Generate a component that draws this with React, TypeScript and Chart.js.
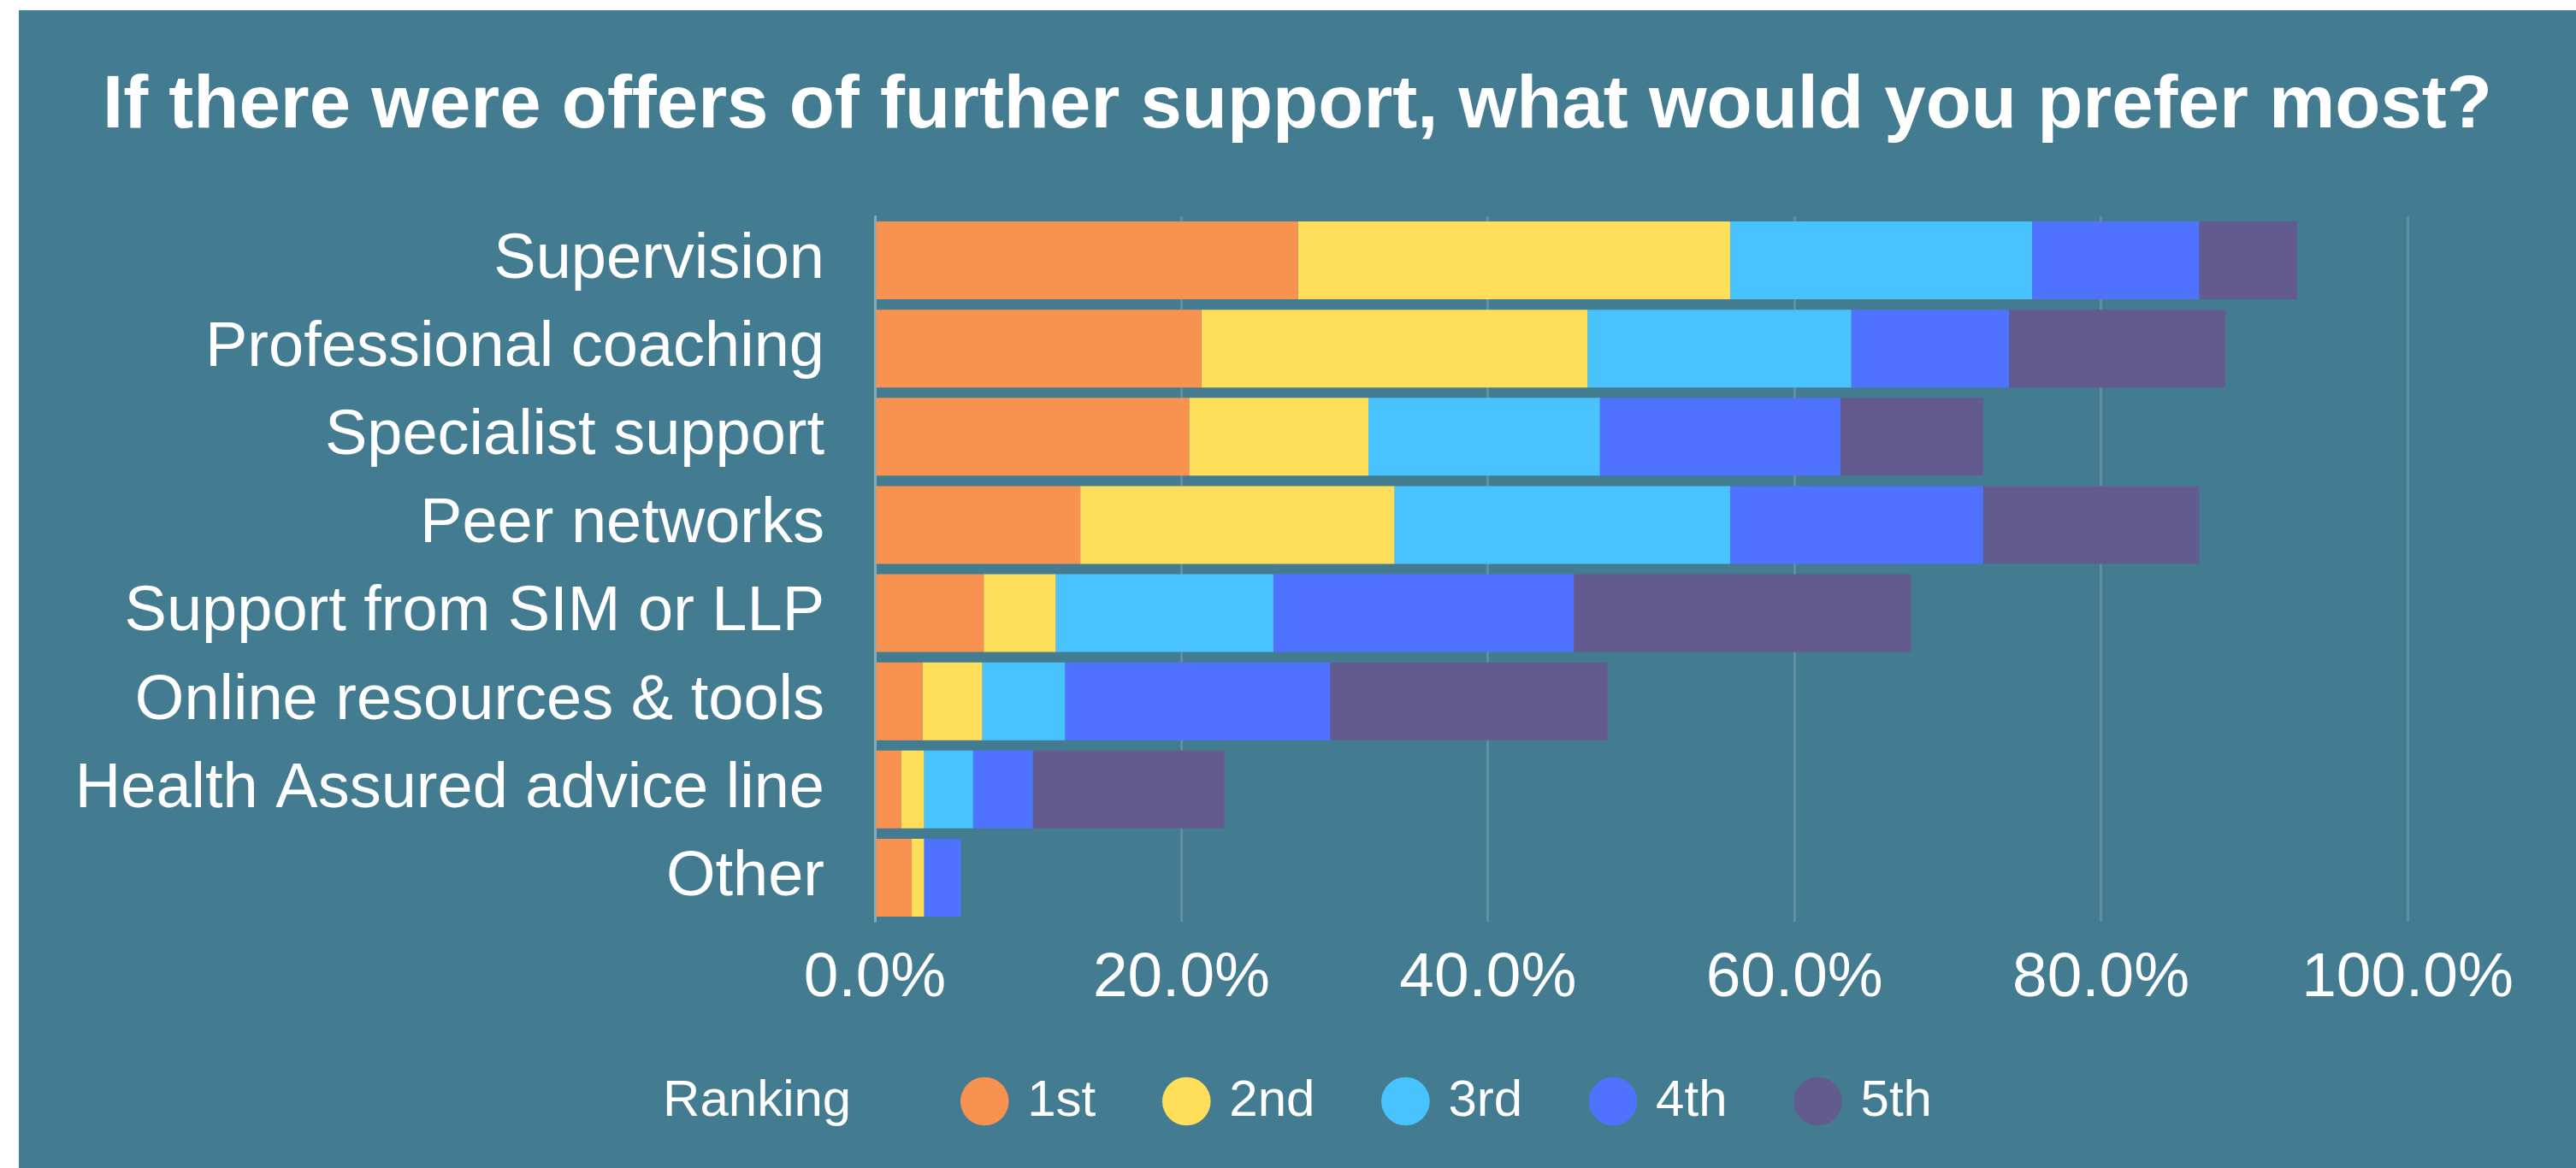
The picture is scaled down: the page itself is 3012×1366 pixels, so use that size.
import React, { useEffect, useRef } from 'react';
import { Chart, registerables } from 'chart.js';

Chart.register(...registerables);

const titleText = 'If there were offers of further support, what would you prefer most?';
const legendTitle = 'Ranking';

const categories = [
  'Supervision',
  'Professional coaching',
  'Specialist support',
  'Peer networks',
  'Support from SIM or LLP',
  'Online resources & tools',
  'Health Assured advice line',
  'Other',
];

const rankLabels = ['1st', '2nd', '3rd', '4th', '5th'];

// percentage of respondents per ranking
const first = [27.6, 21.3, 20.5, 13.4, 7.1, 3.1, 1.7, 2.4];
const second = [28.2, 25.2, 11.7, 20.5, 4.7, 3.9, 1.5, 0.8];
const third = [19.7, 17.2, 15.1, 21.9, 14.2, 5.4, 3.2, 0];
const fourth = [10.9, 10.3, 15.7, 16.5, 19.6, 17.3, 3.9, 2.4];
const fifth = [6.4, 14.1, 9.3, 14.1, 22.0, 18.1, 12.5, 0];

const rankColors = ['#F79250', '#FFDE59', '#48C3FD', '#5073FF', '#635B8F'];

const xMin = 0;
const xMax = 100;
const xStep = 20;

const FONT = "'Liberation Sans', Arial, Helvetica, sans-serif";

const legendShift = {
  id: 'legendShift',
  afterLayout(chart: any) {
    const lg = chart.legend;
    if (lg) {
      lg.left -= 35;
      lg.right -= 35;
    }
  },
};

export default function App() {
  const ref = useRef<HTMLCanvasElement>(null);

  useEffect(() => {
    const canvas = ref.current;
    if (!canvas) return;
    const series = [first, second, third, fourth, fifth];
    const chart = new Chart(canvas, {
      type: 'bar',
      data: {
        labels: categories,
        datasets: series.map((d, i) => ({
          label: rankLabels[i],
          data: d,
          backgroundColor: rankColors[i],
          borderWidth: 0,
          barPercentage: 0.883,
          categoryPercentage: 1,
        })),
      },
      plugins: [legendShift],
      options: {
        indexAxis: 'y',
        responsive: false,
        animation: false,
        events: [],
        layout: { padding: { left: 60, right: 60, top: 20, bottom: 38 } },
        scales: {
          x: {
            stacked: true,
            min: xMin,
            max: xMax,
            grid: { color: 'rgba(255,255,255,0.15)', lineWidth: 3, drawTicks: false },
            border: { display: false },
            ticks: {
              stepSize: xStep,
              color: '#ffffff',
              font: { family: FONT, size: 73 },
              padding: 23,
              callback: (v: any) => Number(v).toFixed(1) + '%',
            },
            afterFit: (scale: any) => {
              scale.height = 94;
              scale.paddingRight = 197;
            },
          },
          y: {
            stacked: true,
            grid: { display: false, drawTicks: false },
            border: { display: true, color: 'rgba(255,255,255,0.25)', width: 3 },
            ticks: {
              color: '#ffffff',
              font: { family: FONT, size: 74 },
              padding: 59,
            },
            afterFit: (scale: any) => {
              scale.width = 941;
            },
          },
        },
        plugins: {
          tooltip: { enabled: false },
          title: {
            display: true,
            text: titleText,
            color: '#ffffff',
            font: { family: FONT, size: 87, weight: 'bold', lineHeight: 1.2 },
            padding: { top: 41, bottom: 75.6 },
          },
          legend: {
            display: true,
            position: 'bottom',
            onClick: () => {},
            labels: {
              color: '#ffffff',
              font: { family: FONT, size: 60 },
              usePointStyle: true,
              pointStyle: 'circle',
              boxWidth: 40,
              boxHeight: 40,
              padding: 86,
              generateLabels: (c: any) => {
                const base = (Chart.defaults.plugins.legend.labels as any)
                  .generateLabels(c)
                  .map((it: any) => ({
                    ...it,
                    lineWidth: 0,
                    strokeStyle: 'rgba(0,0,0,0)',
                    pointStyle: 'circle',
                    fontColor: '#ffffff',
                  }));
                return [
                  {
                    text: legendTitle + '   ',
                    fillStyle: 'rgba(0,0,0,0)',
                    strokeStyle: 'rgba(0,0,0,0)',
                    lineWidth: 0,
                    pointStyle: 'circle',
                    hidden: false,
                    fontColor: '#ffffff',
                  },
                  ...base,
                ];
              },
            },
          },
        },
      } as any,
    });
    return () => chart.destroy();
  }, []);

  return (
    <div
      style={{
        position: 'fixed',
        left: 22,
        top: 12,
        width: 2990,
        height: 1354,
        background: '#437C91',
      }}
    >
      <canvas ref={ref} width={2990} height={1354} style={{ display: 'block' }} />
    </div>
  );
}
